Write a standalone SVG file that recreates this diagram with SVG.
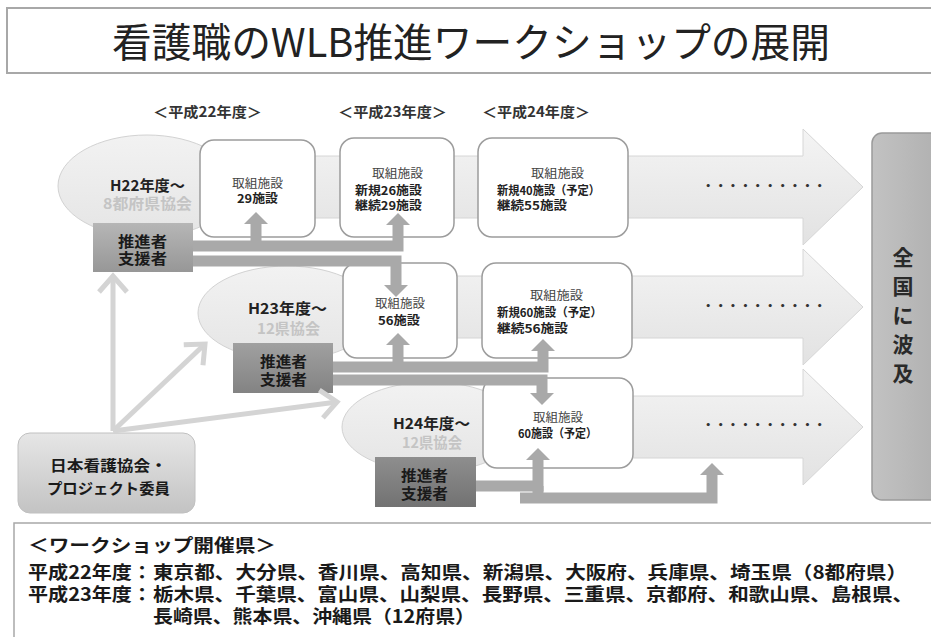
<svg xmlns="http://www.w3.org/2000/svg" width="931" height="637" viewBox="0 0 931 637">
<defs>
  <style>
    text { font-family: "Noto Sans CJK JP", "Noto Sans", sans-serif; fill: #222; }
    .b { font-weight: 700; }
    .lbl { font-size: 12px; font-weight: 700; }
    .lblh { font-size: 12px; font-weight: 400; fill: #444; }
    .yr { font-size: 14px; font-weight: 700; fill: #333; }
    .ell { font-size: 15px; font-weight: 700; }
    .lt { fill: #c4c4c4; }
    .sup { font-size: 15px; font-weight: 700; fill: #1a1a1a; }
    .dots { font-size: 12.4px; font-weight: 700; fill: #333; }
    .btm { font-size: 18px; font-weight: 700; fill: #1a1a1a; }
    .wbox { fill: #ffffff; stroke: #9c9c9c; stroke-width: 1.5; }
    .bigarrow { fill: url(#gArrow); stroke: #d6d6d6; stroke-width: 1; }
    .ellipse { fill: url(#gEll); stroke: #d2d2d2; stroke-width: 1; }
    .fat { fill: none; stroke: #a9a9a9; stroke-width: 11; stroke-linejoin: miter; }
    .thin { fill: none; stroke: #d4d4d4; stroke-width: 5; }
  </style>
  <linearGradient id="gArrow" x1="0" y1="0" x2="0" y2="1">
    <stop offset="0" stop-color="#f4f4f4"/>
    <stop offset="1" stop-color="#e2e2e2"/>
  </linearGradient>
  <linearGradient id="gEll" x1="0" y1="0" x2="0" y2="1">
    <stop offset="0" stop-color="#f2f2f2"/>
    <stop offset="1" stop-color="#e5e5e5"/>
  </linearGradient>
  <linearGradient id="gA" x1="0" y1="0" x2="0" y2="1">
    <stop offset="0" stop-color="#b6b6b6"/>
    <stop offset="1" stop-color="#979797"/>
  </linearGradient>
  <linearGradient id="gB" x1="0" y1="0" x2="0" y2="1">
    <stop offset="0" stop-color="#a0a0a0"/>
    <stop offset="1" stop-color="#838383"/>
  </linearGradient>
  <linearGradient id="gC" x1="0" y1="0" x2="0" y2="1">
    <stop offset="0" stop-color="#8e8e8e"/>
    <stop offset="1" stop-color="#727272"/>
  </linearGradient>
  <linearGradient id="gMom" x1="0" y1="0" x2="0" y2="1">
    <stop offset="0" stop-color="#e6e6e6"/>
    <stop offset="1" stop-color="#c3c3c3"/>
  </linearGradient>
  <linearGradient id="gRight" x1="0" y1="0" x2="1" y2="0">
    <stop offset="0" stop-color="#c2c2c2"/>
    <stop offset="1" stop-color="#afafaf"/>
  </linearGradient>
  <marker id="fatHead" viewBox="0 0 6 12" refX="0" refY="6" markerWidth="12" markerHeight="25" markerUnits="userSpaceOnUse" orient="auto">
    <path d="M0,0 L6,6 L0,12 z" fill="#a9a9a9"/>
  </marker>
  <marker id="openHead" viewBox="-20 -17 22 34" refX="0" refY="0" markerWidth="22" markerHeight="34" markerUnits="userSpaceOnUse" orient="auto" overflow="visible">
    <path d="M-16,-14 L0,0 L-16,14" fill="none" stroke="#d4d4d4" stroke-width="5"/>
  </marker>
</defs>

<rect width="931" height="637" fill="#ffffff"/>

<!-- Title -->
<g id="title">
  <rect x="7" y="8" width="935" height="65" fill="#ffffff" stroke="#a8a8a8" stroke-width="2"/>
  <text x="471" y="57" text-anchor="middle" font-size="40" textLength="718" lengthAdjust="spacingAndGlyphs" style="fill:#222">看護職のWLB推進ワークショップの展開</text>
</g>

<!-- Year labels -->
<g id="year-labels">
  <text class="yr" x="153" y="117" textLength="109" lengthAdjust="spacingAndGlyphs">＜平成22年度＞</text>
  <text class="yr" x="338" y="117" textLength="109" lengthAdjust="spacingAndGlyphs">＜平成23年度＞</text>
  <text class="yr" x="482" y="117" textLength="108" lengthAdjust="spacingAndGlyphs">＜平成24年度＞</text>
</g>

<!-- Big flow arrows -->
<g id="flow-row1">
  <path class="bigarrow" d="M140,156 H803 V129 L863,187 L803,245 V218 H140 Z"/>
  <text class="dots" x="702" y="191" textLength="124" lengthAdjust="spacing">・・・・・・・・・・</text>
</g>
<g id="flow-row2">
  <path class="bigarrow" d="M280,276 H803 V249 L863,307 L803,365 V338 H280 Z"/>
  <text class="dots" x="702" y="311" textLength="124" lengthAdjust="spacing">・・・・・・・・・・</text>
</g>
<g id="flow-row3">
  <path class="bigarrow" d="M420,396 H803 V369 L863,427 L803,485 V458 H420 Z"/>
  <text class="dots" x="702" y="430" textLength="124" lengthAdjust="spacing">・・・・・・・・・・</text>
</g>

<!-- Nationwide box -->
<g id="nationwide">
  <rect x="872" y="133" width="72" height="367" rx="10" fill="url(#gRight)" stroke="#9a9a9a" stroke-width="1.5"/>
  <text class="b" x="903" y="265" text-anchor="middle" font-size="21" style="fill:#2a2a2a">全</text>
  <text class="b" x="903" y="294" text-anchor="middle" font-size="21" style="fill:#2a2a2a">国</text>
  <text class="b" x="903" y="323" text-anchor="middle" font-size="21" style="fill:#2a2a2a">に</text>
  <text class="b" x="903" y="352" text-anchor="middle" font-size="21" style="fill:#2a2a2a">波</text>
  <text class="b" x="903" y="381" text-anchor="middle" font-size="21" style="fill:#2a2a2a">及</text>
</g>

<!-- Ellipses -->
<g id="assoc-h22">
  <ellipse class="ellipse" cx="147" cy="186" rx="89" ry="51"/>
  <text class="ell" x="110" y="191" textLength="75" lengthAdjust="spacingAndGlyphs">H22年度～</text>
  <text class="ell lt" x="103" y="209" textLength="89" lengthAdjust="spacingAndGlyphs">8都府県協会</text>
</g>
<g id="assoc-h23">
  <ellipse class="ellipse" cx="287" cy="313" rx="89" ry="47"/>
  <text class="ell" x="248" y="314" textLength="79" lengthAdjust="spacingAndGlyphs">H23年度～</text>
  <text class="ell lt" x="257" y="334" textLength="63" lengthAdjust="spacingAndGlyphs">12県協会</text>
</g>
<g id="assoc-h24">
  <ellipse class="ellipse" cx="431" cy="427" rx="89" ry="45"/>
  <text class="ell" x="393" y="429" textLength="77" lengthAdjust="spacingAndGlyphs">H24年度～</text>
  <text class="ell lt" x="402" y="448" textLength="60" lengthAdjust="spacingAndGlyphs">12県協会</text>
</g>

<!-- Facility boxes -->
<g id="fac-r1c1">
  <rect class="wbox" x="200" y="140" width="115" height="97" rx="14"/>
  <text class="lblh" x="232" y="188" textLength="51" lengthAdjust="spacingAndGlyphs">取組施設</text>
  <text class="lbl" x="237" y="203" textLength="41" lengthAdjust="spacingAndGlyphs">29施設</text>
</g>
<g id="fac-r1c2">
  <rect class="wbox" x="340" y="138" width="114" height="99" rx="14"/>
  <text class="lblh" x="372" y="178" textLength="51" lengthAdjust="spacingAndGlyphs">取組施設</text>
  <text class="lbl" x="355" y="195" textLength="67" lengthAdjust="spacingAndGlyphs">新規26施設</text>
  <text class="lbl" x="355" y="210" textLength="67" lengthAdjust="spacingAndGlyphs">継続29施設</text>
</g>
<g id="fac-r1c3">
  <rect class="wbox" x="478" y="138" width="150" height="99" rx="14"/>
  <text class="lblh" x="531" y="178" textLength="53" lengthAdjust="spacingAndGlyphs">取組施設</text>
  <text class="lbl" x="497" y="195" textLength="103" lengthAdjust="spacingAndGlyphs">新規40施設（予定）</text>
  <text class="lbl" x="497" y="210" textLength="70" lengthAdjust="spacingAndGlyphs">継続55施設</text>
</g>
<g id="fac-r2c2">
  <rect class="wbox" x="343" y="263" width="114" height="95" rx="14"/>
  <text class="lblh" x="375" y="308" textLength="50" lengthAdjust="spacingAndGlyphs">取組施設</text>
  <text class="lbl" x="378" y="325" textLength="42" lengthAdjust="spacingAndGlyphs">56施設</text>
</g>
<g id="fac-r2c3">
  <rect class="wbox" x="482" y="263" width="150" height="95" rx="14"/>
  <text class="lblh" x="530" y="300" textLength="53" lengthAdjust="spacingAndGlyphs">取組施設</text>
  <text class="lbl" x="497" y="317" textLength="105" lengthAdjust="spacingAndGlyphs">新規60施設（予定）</text>
  <text class="lbl" x="497" y="333" textLength="71" lengthAdjust="spacingAndGlyphs">継続56施設</text>
</g>
<g id="fac-r3c3">
  <rect class="wbox" x="483" y="378" width="150" height="90" rx="14"/>
  <text class="lblh" x="533" y="422" textLength="50" lengthAdjust="spacingAndGlyphs">取組施設</text>
  <text class="lbl" x="518" y="438" textLength="79" lengthAdjust="spacingAndGlyphs">60施設（予定）</text>
</g>

<!-- Promoter / supporter boxes -->
<g id="sup-h22">
  <rect x="93" y="223" width="100" height="49" fill="url(#gA)"/>
  <text class="sup" x="118" y="247" textLength="49" lengthAdjust="spacingAndGlyphs">推進者</text>
  <text class="sup" x="118" y="264" textLength="49" lengthAdjust="spacingAndGlyphs">支援者</text>
</g>
<g id="sup-h23">
  <rect x="233" y="343" width="100" height="50" fill="url(#gB)"/>
  <text class="sup" x="260" y="367" textLength="47" lengthAdjust="spacingAndGlyphs">推進者</text>
  <text class="sup" x="260" y="385" textLength="47" lengthAdjust="spacingAndGlyphs">支援者</text>
</g>
<g id="sup-h24">
  <rect x="375" y="457" width="101" height="50" fill="url(#gC)"/>
  <text class="sup" x="401" y="481" textLength="47" lengthAdjust="spacingAndGlyphs">推進者</text>
  <text class="sup" x="401" y="499" textLength="47" lengthAdjust="spacingAndGlyphs">支援者</text>
</g>

<!-- Japan Nursing Association -->
<g id="jna">
  <rect x="18" y="433" width="177" height="80" rx="12" fill="url(#gMom)" stroke="#c0c0c0" stroke-width="1"/>
  <text class="sup" x="50" y="471" textLength="117" lengthAdjust="spacingAndGlyphs">日本看護協会・</text>
  <text class="sup" x="47" y="494" textLength="123" lengthAdjust="spacingAndGlyphs">プロジェクト委員</text>
</g>

<!-- Connectors -->
<g id="connectors">
  <path class="fat" d="M193,246 H398 V225" marker-end="url(#fatHead)"/>
  <path class="fat" d="M256,246 V224" marker-end="url(#fatHead)"/>
  <path class="fat" d="M193,261 H396 V285" marker-end="url(#fatHead)"/>
  <path class="fat" d="M333,367 H543 V351" marker-end="url(#fatHead)"/>
  <path class="fat" d="M398,367 V345" marker-end="url(#fatHead)"/>
  <path class="fat" d="M333,380 H542 V393" marker-end="url(#fatHead)"/>
  <path class="fat" d="M476,486 H538 V460" marker-end="url(#fatHead)"/>
  <path class="fat" d="M538,503 V486"/>
  <path class="fat" d="M520,498 H712 V475" marker-end="url(#fatHead)"/>
  <path class="thin" d="M113,431 V276" marker-end="url(#openHead)"/>
  <path class="thin" d="M113,431 L205,344" marker-end="url(#openHead)"/>
  <path class="thin" d="M113,431 L337,402" marker-end="url(#openHead)"/>
</g>

<!-- Bottom legend -->
<g id="legend">
  <rect x="14" y="523" width="930" height="130" fill="#ffffff" stroke="#a8a8a8" stroke-width="1.5"/>
  <text class="btm" x="28" y="552" textLength="248" lengthAdjust="spacingAndGlyphs">＜ワークショップ開催県＞</text>
  <text class="btm" x="28" y="579" textLength="124" lengthAdjust="spacingAndGlyphs">平成22年度：</text>
  <text class="btm" x="153" y="579" textLength="754" lengthAdjust="spacingAndGlyphs">東京都、大分県、香川県、高知県、新潟県、大阪府、兵庫県、埼玉県（8都府県）</text>
  <text class="btm" x="28" y="601" textLength="124" lengthAdjust="spacingAndGlyphs">平成23年度：</text>
  <text class="btm" x="153" y="601" textLength="760" lengthAdjust="spacingAndGlyphs">栃木県、千葉県、富山県、山梨県、長野県、三重県、京都府、和歌山県、島根県、</text>
  <text class="btm" x="153" y="623" textLength="322" lengthAdjust="spacingAndGlyphs">長崎県、熊本県、沖縄県（12府県）</text>
</g>
</svg>
